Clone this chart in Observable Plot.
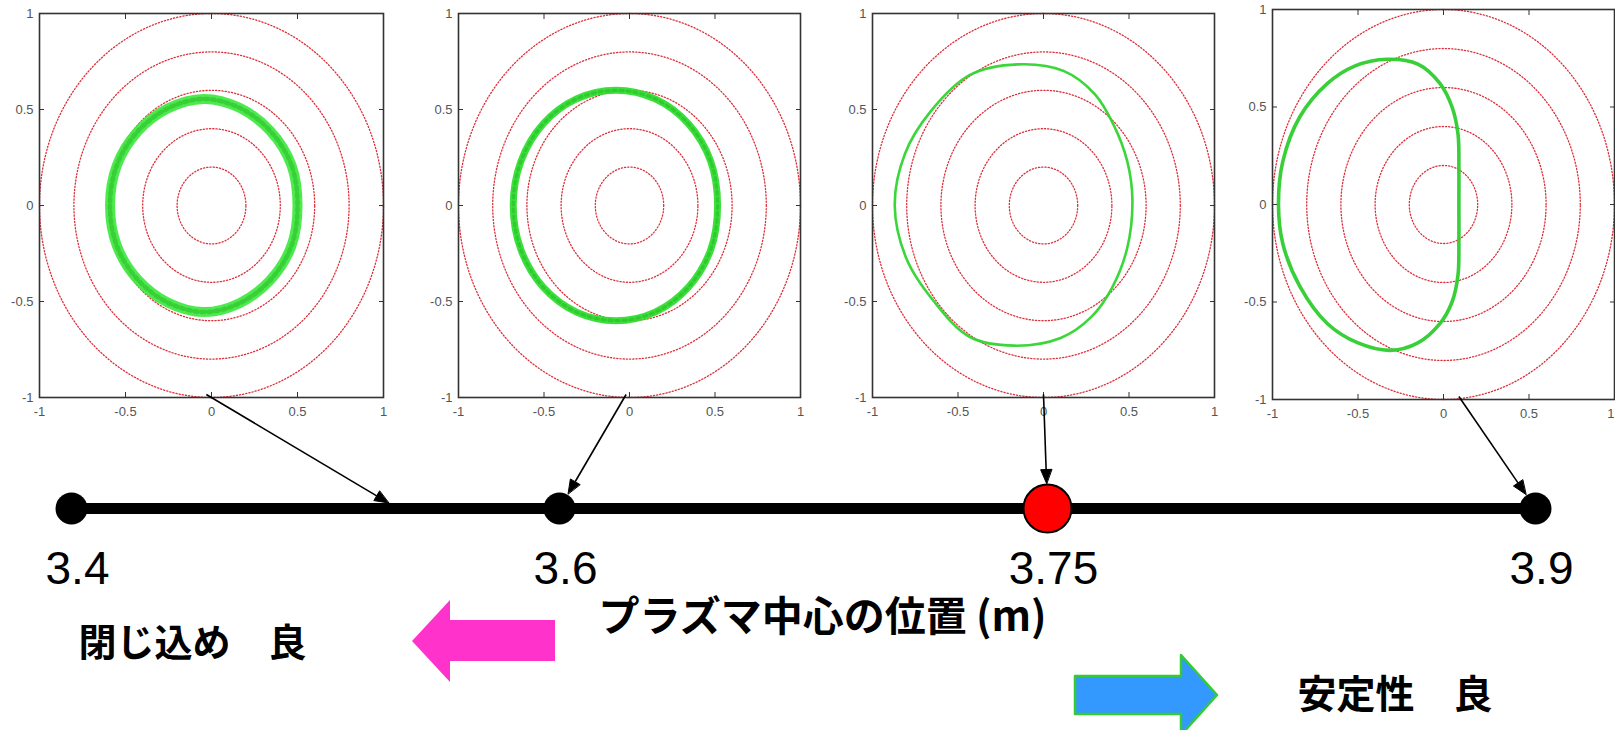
<!DOCTYPE html>
<html><head><meta charset="utf-8">
<script src="https://cdn.jsdelivr.net/npm/d3@7"></script>
<script src="https://cdn.jsdelivr.net/npm/@observablehq/plot@0.6"></script>
<style>
body{margin:0;background:#fff;}
#root{position:relative;width:1615px;height:730px;overflow:hidden;background:#fff;}
#root > svg{position:absolute;}
</style></head><body><div id="root"></div>
<script>
// ---------- data ----------
const axisPositions = [3.4, 3.6, 3.75, 3.9];
const axisLabels = ["3.4", "3.6", "3.75", "3.9"];
const highlightPosition = 3.75;
const panelPositions = [3.53, 3.6, 3.75, 3.9];
const fluxRadii = [0.2, 0.4, 0.6, 0.8, 1.0];
const panelTicks = [-1, -0.5, 0, 0.5, 1];
// orbit contours (x, y in normalized minor radius)
const orbit353 = [[0.50,0.0],[0.465,0.21],[0.34,0.39],[0.16,0.51],[-0.045,0.555],[-0.255,0.505],[-0.43,0.385],[-0.55,0.21],[-0.59,0.0],[-0.55,-0.21],[-0.43,-0.385],[-0.255,-0.505],[-0.045,-0.555],[0.16,-0.51],[0.34,-0.39],[0.465,-0.21]];
const orbit360 = [[0.515,0.0],[0.475,0.23],[0.345,0.425],[0.15,0.555],[-0.08,0.60],[-0.31,0.555],[-0.505,0.425],[-0.635,0.23],[-0.68,0.0],[-0.635,-0.23],[-0.505,-0.425],[-0.31,-0.555],[-0.08,-0.60],[0.15,-0.555],[0.345,-0.425],[0.475,-0.23]];
const orbit375 = [[-0.15,0.735],[0.12,0.70],[0.30,0.58],[0.41,0.42],[0.49,0.23],[0.52,0.03],[0.49,-0.22],[0.40,-0.43],[0.28,-0.58],[0.10,-0.69],[-0.17,-0.73],[-0.43,-0.685],[-0.64,-0.50],[-0.80,-0.28],[-0.87,0.0],[-0.81,0.27],[-0.66,0.49],[-0.43,0.68]];
const orbit390 = [[-0.33,0.745],[-0.15,0.72],[-0.02,0.62],[0.05,0.50],[0.085,0.36],[0.09,0.18],[0.09,0.0],[0.09,-0.18],[0.085,-0.36],[0.05,-0.50],[-0.02,-0.61],[-0.15,-0.71],[-0.31,-0.748],[-0.50,-0.71],[-0.68,-0.61],[-0.84,-0.42],[-0.94,-0.20],[-0.965,0.0],[-0.94,0.22],[-0.84,0.45],[-0.68,0.62],[-0.52,0.71]];
const connectorStartX = [-0.03, -0.02, 0, 0.09];
const axisTitle = "プラズマ中心の位置 (m)";
const leftNote = "閉じ込め　良";
const rightNote = "安定性　良";

// ---------- layout ----------
const root = document.getElementById("root");
const W = 1615, H = 730;
const lineY = 508;
const cjk = "'Noto Sans CJK JP', 'Noto Sans', sans-serif";
const latin = "'Liberation Sans', Arial, sans-serif";
const panelFrames = [[39,13,383,397],[458,13,800,397],[872,13,1214,397],[1272,9,1614,399]];
const orbits = [orbit353, orbit360, orbit375, orbit390];
const orbitStyles = [
  {stroke:"#45e845", width:10, beads:true},
  {stroke:"#33dd33", width:7, beads:true},
  {stroke:"#2fd42f", width:2.6, beads:false},
  {stroke:"#2ecc2e", width:3.6, beads:false}
];

const circlePts = fluxRadii.flatMap(rad => d3.range(0, 361, 2).map(a => ({
  r: rad, x: rad * Math.cos(a * Math.PI / 180), y: rad * Math.sin(a * Math.PI / 180)
})));

const panels = panelFrames.map((frame, i) => {
  const [l, t, r, b] = frame;
  const ml = 40, mr = 4, PH = 430;
  const st = orbitStyles[i];
  const last = i === panelFrames.length - 1;
  const xLab = last ? panelTicks.slice(0, -1) : panelTicks;
  const orbitLine = {x: d => d[0], y: d => d[1], curve: "catmull-rom-closed"};
  const p = Plot.plot({
    width: (r - l) + ml + mr, height: PH,
    marginLeft: ml, marginRight: mr, marginTop: t, marginBottom: PH - b,
    x: {domain: [-1, 1], axis: null},
    y: {domain: [-1, 1], axis: null},
    style: {background: "transparent", fontFamily: latin, overflow: "visible"},
    marks: [
      Plot.line(circlePts, {x: "x", y: "y", z: "r", stroke: "#dd2f3a", strokeWidth: 1.3, strokeDasharray: "1.2,2"}),
      Plot.line(orbits[i], {...orbitLine, stroke: st.stroke, strokeWidth: st.width, strokeOpacity: 0.95}),
      st.beads ? Plot.line(orbits[i], {...orbitLine, stroke: "#1fb81f", strokeWidth: st.width * 0.45, strokeDasharray: "3,4", strokeOpacity: 0.5}) : null,
      Plot.frame({stroke: "#333", strokeWidth: 1.6}),
      Plot.axisX({ticks: panelTicks, anchor: "bottom", tickSize: -5, tickFormat: () => "", label: null, stroke: "#333"}),
      Plot.axisX({ticks: panelTicks, anchor: "top", tickSize: -5, tickFormat: () => "", label: null, stroke: "#333"}),
      Plot.axisY({ticks: panelTicks, anchor: "left", tickSize: -5, tickFormat: () => "", label: null, stroke: "#333"}),
      Plot.axisY({ticks: panelTicks, anchor: "right", tickSize: -5, tickFormat: () => "", label: null, stroke: "#333"}),
      Plot.axisX({ticks: xLab, anchor: "bottom", tickSize: 0, tickPadding: 9, tickFormat: d => String(d), label: null, fontSize: 13, fill: "#555"}),
      last ? Plot.axisX({ticks: [1], anchor: "bottom", tickSize: 0, tickPadding: 9, tickFormat: d => String(d), label: null, fontSize: 13, fill: "#555", textAnchor: "end", dx: 0}) : null,
      Plot.axisY({ticks: panelTicks, anchor: "left", tickSize: 0, tickPadding: 6, tickFormat: d => String(d), label: null, fontSize: 13, fill: "#555"})
    ]
  });
  p.style.left = (l - ml) + "px";
  p.style.top = "0px";
  root.appendChild(p);
  return {plot: p, left: l - ml};
});

// ---------- timeline ----------
const tl = Plot.plot({
  width: W, height: H, margin: 0,
  x: {type: "point", domain: axisPositions, range: [70, 1535], padding: 0, axis: null},
  y: {domain: [0, H], range: [0, H], axis: null},
  style: {background: "transparent"},
  marks: [
    Plot.line(axisPositions, {x: d => d, y: () => lineY, stroke: "black", strokeWidth: 11, strokeLinecap: "butt"}),
    Plot.dot(axisPositions.filter(d => d !== highlightPosition), {x: d => d, y: () => lineY, r: 16, fill: "black"}),
    Plot.dot([highlightPosition], {x: d => d, y: () => lineY, r: 24, fill: "#ff0000", stroke: "black", strokeWidth: 2}),
    Plot.text(axisPositions, {x: d => d, y: () => 583, text: (d, i) => axisLabels[i], dx: 6, fontSize: 46, fontFamily: latin, lineAnchor: "bottom", fill: "black"})
  ]
});
tl.style.left = "0px"; tl.style.top = "0px";
root.appendChild(tl);

// position along the (equally spaced) axis, interpolated between neighbouring ticks
const txs = tl.scale("x");
function axisPixel(v) {
  let k = 0;
  while (k < axisPositions.length - 2 && v > axisPositions[k + 1]) k++;
  const a = axisPositions[k], b = axisPositions[k + 1];
  const pa = txs.apply(a), pb = txs.apply(b);
  return pa + (v - a) / (b - a) * (pb - pa);
}

// ---------- connectors & annotations ----------
const links = [], heads = [];
panelPositions.forEach((pos, i) => {
  const pp = panels[i];
  const sx = pp.plot.scale("x").apply(connectorStartX[i]) + pp.left;
  const sy = pp.plot.scale("y").apply(-1) - 3;
  const cx = axisPixel(pos);
  let ex, ey;
  if (axisPositions.includes(pos)) {
    const rad = (pos === highlightPosition ? 24 : 16) + 1;
    const dx = cx - sx, dy = lineY - sy, L = Math.hypot(dx, dy);
    ex = cx - dx / L * rad; ey = lineY - dy / L * rad;
  } else {
    ex = cx; ey = lineY - 5.5;
  }
  const dx = ex - sx, dy = ey - sy, L = Math.hypot(dx, dy);
  const ux = dx / L, uy = dy / L, hl = 14, hw = 5.5;
  const bx = ex - ux * hl, by = ey - uy * hl;
  links.push({x1: sx, y1: sy, x2: bx, y2: by});
  heads.push({k: i, x: ex, y: ey}, {k: i, x: bx - uy * hw, y: by + ux * hw}, {k: i, x: bx + uy * hw, y: by - ux * hw});
});

const pinkArrow = [{x:412,y1:641,y2:641},{x:450,y1:600,y2:682},{x:450,y1:620,y2:661},{x:555,y1:620,y2:661}];
const blueArrow = [{x:1075,y1:676,y2:714},{x:1181,y1:676,y2:714},{x:1181,y1:655,y2:735},{x:1217,y1:695,y2:695}];

const ov = Plot.plot({
  width: W, height: H, margin: 0,
  x: {domain: [0, W], range: [0, W], axis: null},
  y: {domain: [0, H], range: [0, H], axis: null},
  style: {background: "transparent"},
  marks: [
    Plot.link(links, {x1: "x1", y1: "y1", x2: "x2", y2: "y2", stroke: "black", strokeWidth: 1.6}),
    Plot.line(heads, {x: "x", y: "y", z: "k", fill: "black", stroke: "black", strokeWidth: 1, curve: "linear-closed"}),
    Plot.areaY(pinkArrow, {x: "x", y1: "y1", y2: "y2", fill: "#ff33cc", curve: "linear"}),
    Plot.areaY(blueArrow, {x: "x", y1: "y1", y2: "y2", fill: "#3399ff", stroke: "#33cc33", strokeWidth: 2.5, curve: "linear"}),
    Plot.text([axisTitle], {x: () => 822, y: () => 630, text: d => d, fontSize: 41, fontWeight: "bold", fontFamily: cjk, lineAnchor: "bottom", textAnchor: "middle", fill: "black"}),
    Plot.text([leftNote], {x: () => 78, y: () => 655, text: d => d, fontSize: 38, fontWeight: "bold", fontFamily: cjk, lineAnchor: "bottom", textAnchor: "start", fill: "black"}),
    Plot.text([rightNote], {x: () => 1297, y: () => 707, text: d => d, fontSize: 39, fontWeight: "bold", fontFamily: cjk, lineAnchor: "bottom", textAnchor: "start", fill: "black"})
  ]
});
ov.style.left = "0px"; ov.style.top = "0px";
root.appendChild(ov);
</script></body></html>
